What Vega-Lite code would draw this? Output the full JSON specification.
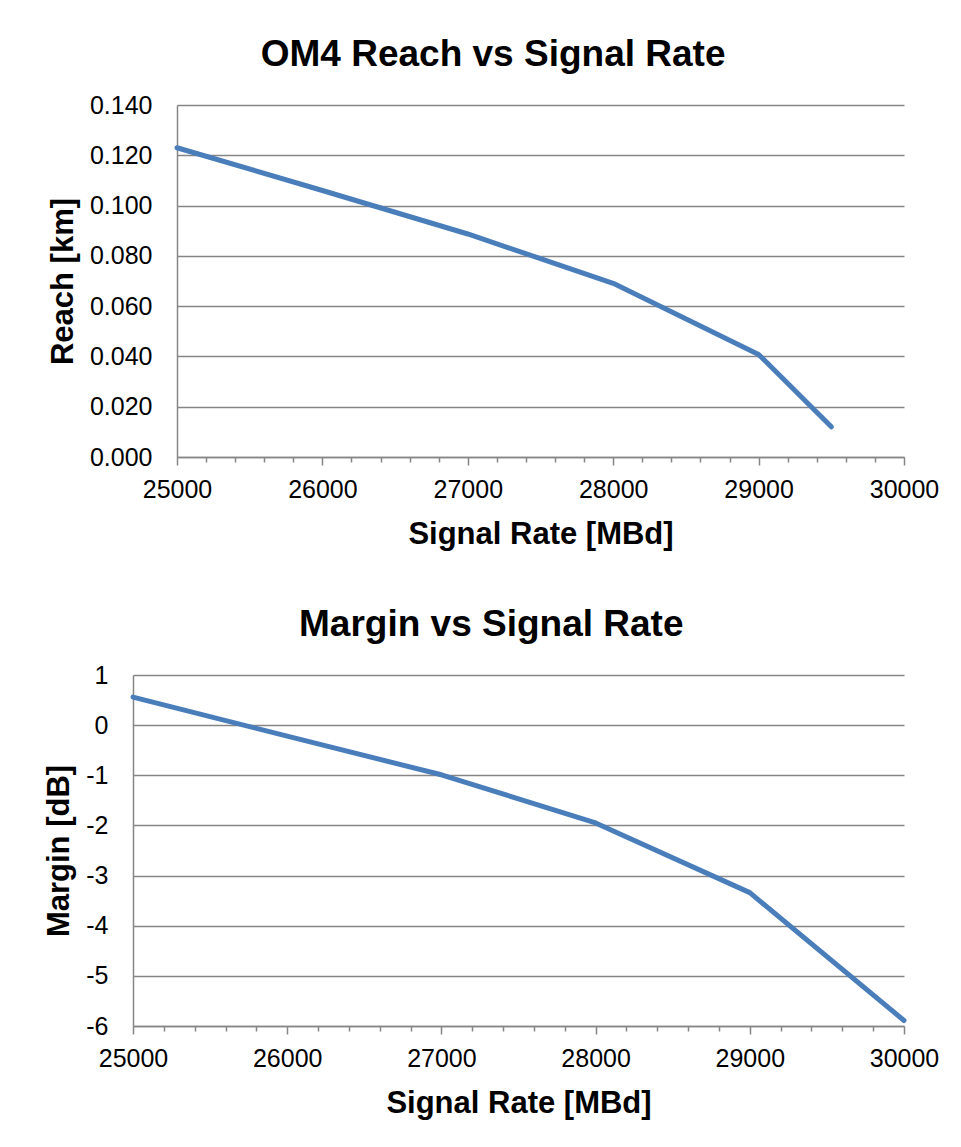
{
  "$schema": "https://vega.github.io/schema/vega-lite/v6.json",
  "padding": {"left": 43, "top": 36, "right": 10, "bottom": 10},
  "background": "white",
  "columns": 1,
  "align": "none",
  "spacing": 57,
  "config": {
    "font": "Liberation Sans",
    "view": {"stroke": null},
    "title": {"fontSize": 37, "fontWeight": "bold", "color": "#000000", "anchor": "middle", "frame": "bounds", "offset": 19, "font": "Liberation Sans"},
    "axis": {
      "labelFont": "Liberation Sans", "titleFont": "Liberation Sans",
      "labelFontSize": 25, "labelColor": "#000000",
      "titleFontSize": 31, "titleFontWeight": "bold", "titleColor": "#000000",
      "domainColor": "#868686", "domainWidth": 1.5,
      "gridColor": "#868686", "gridWidth": 1.5,
      "tickColor": "#868686", "tickWidth": 1.5
    }
  },
  "datasets": {
    "reach": [
      {"rate": 25000, "reach": 0.123},
      {"rate": 26000, "reach": 0.106},
      {"rate": 27000, "reach": 0.0887},
      {"rate": 28000, "reach": 0.0691},
      {"rate": 29000, "reach": 0.0408},
      {"rate": 29500, "reach": 0.012}
    ],
    "margin": [
      {"rate": 25000, "margin": 0.56},
      {"rate": 26000, "margin": -0.22},
      {"rate": 27000, "margin": -0.99},
      {"rate": 28000, "margin": -1.95},
      {"rate": 29000, "margin": -3.34},
      {"rate": 30000, "margin": -5.89}
    ]
  },
  "concat": [
    {
      "title": "OM4 Reach vs Signal Rate",
      "width": 771,
      "height": 352,
      "data": {"name": "reach"},
      "mark": {"type": "line", "color": "#4a7ebb", "strokeWidth": 5, "strokeCap": "round", "strokeJoin": "round", "clip": false},
      "encoding": {
        "x": {
          "field": "rate", "type": "quantitative", "title": "Signal Rate [MBd]",
          "scale": {"domain": [25000, 30000], "range": [44, 771], "nice": false, "zero": false},
          "axis": {
            "grid": false,
            "values": [25000,25200,25400,25600,25800,26000,26200,26400,26600,26800,27000,27200,27400,27600,27800,28000,28200,28400,28600,28800,29000,29200,29400,29600,29800,30000],
            "labelExpr": "datum.value % 1000 === 0 ? '' + datum.value : ''",
            "labelOverlap": false,
            "labelFlush": false,
            "tickSize": {"condition": {"test": "datum.value % 1000 === 0", "value": 8}, "value": 5},
            "labelPadding": 12,
            "titlePadding": 17
          }
        },
        "y": {
          "field": "reach", "type": "quantitative", "title": "Reach [km]",
          "scale": {"domain": [0, 0.14], "nice": false},
          "axis": {
            "values": [0, 0.02, 0.04, 0.06, 0.08, 0.1, 0.12, 0.14],
            "labelExpr": "format(datum.value, '.3f')",
            "ticks": false,
            "offset": -44,
            "labelPadding": 25,
            "titlePadding": 10
          }
        }
      }
    },
    {
      "title": "Margin vs Signal Rate",
      "width": 771,
      "height": 351,
      "data": {"name": "margin"},
      "mark": {"type": "line", "color": "#4a7ebb", "strokeWidth": 5, "strokeCap": "round", "strokeJoin": "round", "clip": false},
      "encoding": {
        "x": {
          "field": "rate", "type": "quantitative", "title": "Signal Rate [MBd]",
          "scale": {"domain": [25000, 30000], "nice": false, "zero": false},
          "axis": {
            "grid": false,
            "values": [25000,25200,25400,25600,25800,26000,26200,26400,26600,26800,27000,27200,27400,27600,27800,28000,28200,28400,28600,28800,29000,29200,29400,29600,29800,30000],
            "labelExpr": "datum.value % 1000 === 0 ? '' + datum.value : ''",
            "labelOverlap": false,
            "labelFlush": false,
            "tickSize": {"condition": {"test": "datum.value % 1000 === 0", "value": 8}, "value": 5},
            "labelPadding": 12,
            "titlePadding": 17
          }
        },
        "y": {
          "field": "margin", "type": "quantitative", "title": "Margin [dB]",
          "scale": {"domain": [-6, 1], "nice": false, "zero": false},
          "axis": {
            "values": [-6, -5, -4, -3, -2, -1, 0, 1],
            "labelExpr": "'' + datum.value",
            "ticks": false,
            "labelPadding": 25,
            "titlePadding": 10
          }
        }
      }
    }
  ]
}
